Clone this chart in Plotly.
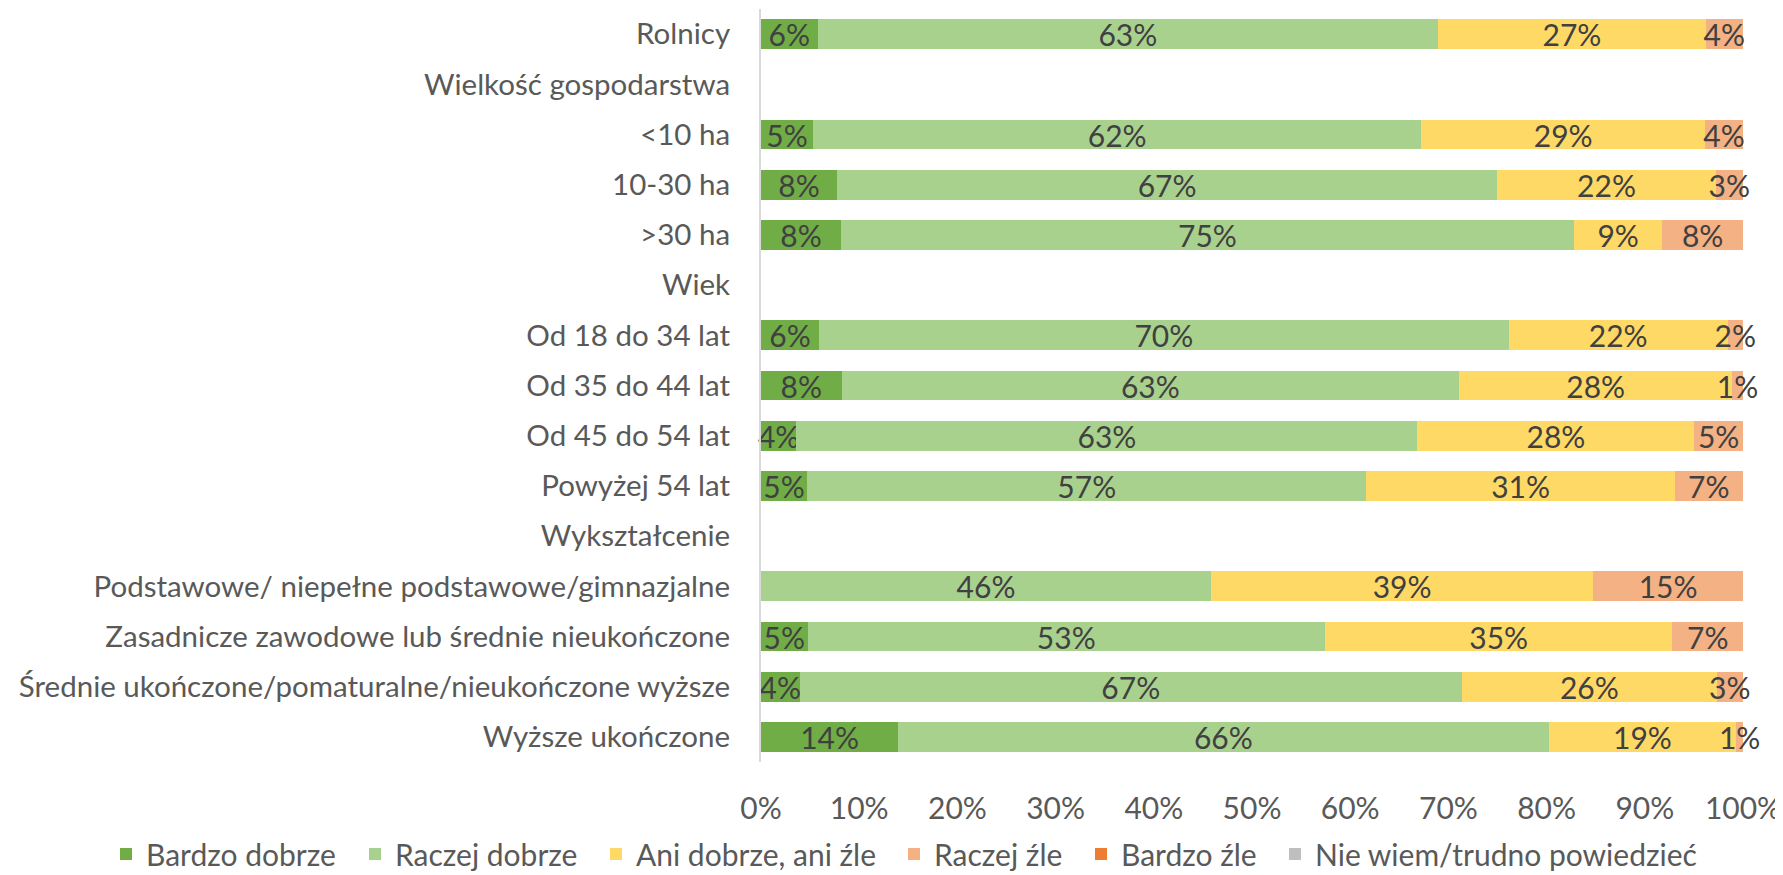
import plotly.graph_objects as go

categories = [
    "Rolnicy",
    "Wielkość gospodarstwa",
    "<10 ha",
    "10-30 ha",
    ">30 ha",
    "Wiek",
    "Od 18 do 34 lat",
    "Od 35 do 44 lat",
    "Od 45 do 54 lat",
    "Powyżej 54 lat",
    "Wykształcenie",
    "Podstawowe/ niepełne podstawowe/gimnazjalne",
    "Zasadnicze zawodowe lub średnie nieukończone",
    "Średnie ukończone/pomaturalne/nieukończone wyższe",
    "Wyższe ukończone",
]

series_names = ["Bardzo dobrze", "Raczej dobrze", "Ani dobrze, ani źle",
                "Raczej źle", "Bardzo źle", "Nie wiem/trudno powiedzieć"]

bardzo_dobrze = [5.76, None, 5.29, 7.73, 8.14, None, 5.9, 8.2, 3.6, 4.7, None, 0.0, 4.75, 3.93, 13.97]
raczej_dobrze = [63.2, None, 61.96, 67.25, 74.64, None, 70.24, 62.9, 63.25, 56.95, None, 45.83, 52.67, 67.45, 66.23]
ani_ani = [27.25, None, 28.89, 22.24, 9.02, None, 22.3, 27.8, 28.2, 31.4, None, 38.92, 35.4, 25.95, 19.12]
raczej_zle = [3.78, None, 3.85, 2.77, 8.19, None, 1.55, 1.09, 4.94, 6.94, None, 15.24, 7.17, 2.66, 0.67]
bardzo_zle = [0, None, 0, 0, 0, None, 0, 0, 0, 0, None, 0, 0, 0, 0]
nie_wiem = [0, None, 0, 0, 0, None, 0, 0, 0, 0, None, 0, 0, 0, 0]

x_ticks = [0, 10, 20, 30, 40, 50, 60, 70, 80, 90, 100]
x_tick_labels = [f"{t}%" for t in x_ticks]

values = [bardzo_dobrze, raczej_dobrze, ani_ani, raczej_zle, bardzo_zle, nie_wiem]
colors = ["#70AD47", "#A9D18E", "#FFD966", "#F4B183", "#ED7D31", "#BFBFBF"]

# legend entries' left edges in figure pixels (one legend box per entry)
legend_x_px = [98, 347, 588, 886, 1073, 1267]

FONT = "Lato"
FS = 30
W, H = 1775, 867   # page body has an 8px default margin

fig = go.Figure()
legend_ids = ["legend"] + [f"legend{i}" for i in range(2, 7)]
for name, vals, col, lid in zip(series_names, values, colors, legend_ids):
    texts = [("" if (v is None or v == 0) else f"{round(v):d}%") for v in vals]
    fig.add_trace(go.Bar(
        y=categories, x=vals, name=name, orientation="h",
        marker=dict(color=col, line=dict(width=0)),
        text=texts, textposition="inside", insidetextanchor="middle",
        textangle=0, constraintext="none", cliponaxis=False,
        textfont=dict(family=FONT, size=FS, color="#404040"),
        hoverinfo="skip", legend=lid,
    ))

legend_layout = {}
for lid, px in zip(legend_ids, legend_x_px):
    legend_layout[lid] = dict(
        orientation="h", xref="container", yref="container",
        x=px / W, xanchor="left", y=(H - 846) / H, yanchor="middle",
        font=dict(family=FONT, size=FS, color="#595959"),
        itemwidth=30, bgcolor="rgba(0,0,0,0)", borderwidth=0,
    )

fig.update_layout(
    barmode="stack",
    bargap=0.41,
    width=W, height=H,
    margin=dict(l=753, r=40, t=1, b=113, autoexpand=False),
    paper_bgcolor="white", plot_bgcolor="white",
    font=dict(family=FONT, size=FS, color="#595959"),
    showlegend=True,
    uniformtext=dict(mode=False),
    **legend_layout,
)

fig.update_xaxes(
    range=[0, 100.0001], tickvals=x_ticks, ticktext=x_tick_labels,
    showgrid=False, zeroline=False, showline=False,
    ticks="", ticklabelstandoff=26, fixedrange=True,
)
fig.update_yaxes(
    autorange="reversed", categoryorder="array", categoryarray=categories,
    showgrid=False, zeroline=False, showline=True, linecolor="#D9D9D9", linewidth=2,
    ticks="", ticklabelstandoff=23, tickfont=dict(size=29.5), fixedrange=True,
)

fig.write_html("out.html")
